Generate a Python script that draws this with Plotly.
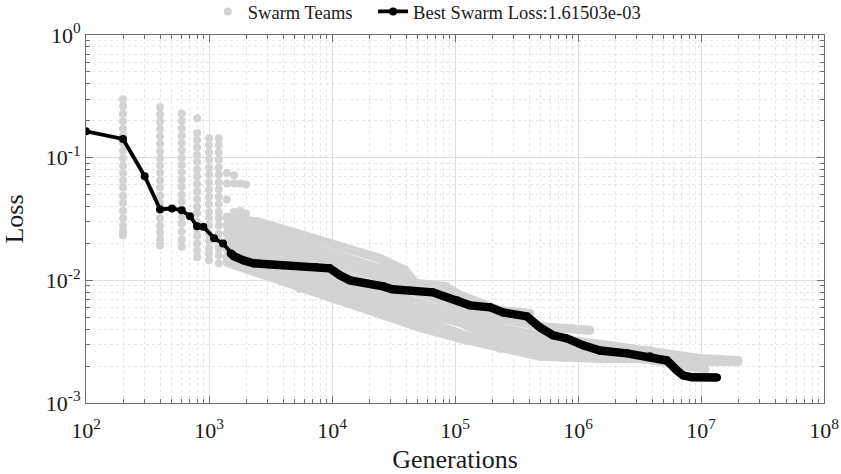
import plotly.graph_objects as go

# ---------------- data ----------------
# Best swarm loss per generation
best_gen = [100, 200, 300, 400, 500, 600, 700, 800, 900, 1100, 1300, 1500, 1600,
            1900, 2300, 3000, 4000, 7500, 9600, 11600, 14000, 26000, 31000, 66000,
            80000, 104000, 132000, 193000, 246000, 385000, 491000, 626000, 814000,
            1100000, 1510000, 2500000, 3850000, 5290000, 6380000, 7140000, 8450000,
            13500000]
best_loss = [0.164, 0.142, 0.0706, 0.0380, 0.0385, 0.0373, 0.0333, 0.0276, 0.0274,
             0.0220, 0.0200, 0.0166, 0.0157, 0.01456, 0.01377, 0.01351, 0.01325,
             0.01277, 0.01253, 0.01098, 0.0100, 0.00893, 0.00845, 0.00798, 0.00740,
             0.00687, 0.00625, 0.00602, 0.00548, 0.00508, 0.00413, 0.00356, 0.00336,
             0.00295, 0.00268, 0.00254, 0.00240, 0.00222, 0.00184, 0.00168, 0.00162,
             0.001615]
best_label = "Best Swarm Loss:1.61503e-03"

# Swarm team losses at early generations (columns) and a few stragglers
team_col_gens = [200, 400, 600, 800, 1000, 1200, 1400, 1600, 1800, 2000]
team_col_losses = [
    [0.300, 0.262, 0.228, 0.198, 0.172, 0.150, 0.131, 0.114, 0.099, 0.086, 0.075,
     0.065, 0.057, 0.049, 0.043, 0.037, 0.032, 0.028, 0.025, 0.0233],
    [0.258, 0.225, 0.196, 0.171, 0.149, 0.130, 0.113, 0.098, 0.086, 0.075, 0.065,
     0.057, 0.049, 0.043, 0.037, 0.032, 0.028, 0.0245, 0.0215, 0.0193],
    [0.228, 0.199, 0.173, 0.151, 0.132, 0.115, 0.100, 0.087, 0.076, 0.066, 0.058,
     0.050, 0.044, 0.038, 0.033, 0.029, 0.025, 0.0215, 0.0188],
    [0.210, 0.159, 0.139, 0.121, 0.105, 0.092, 0.080, 0.070, 0.061, 0.053, 0.046,
     0.040, 0.035, 0.030, 0.026, 0.023, 0.020, 0.0175, 0.0154],
    [0.144, 0.126, 0.110, 0.096, 0.083, 0.073, 0.063, 0.055, 0.048, 0.042, 0.036,
     0.032, 0.028, 0.024, 0.021, 0.0183, 0.0164, 0.0146],
    [0.144, 0.126, 0.110, 0.096, 0.083, 0.073, 0.063, 0.055, 0.048, 0.042, 0.036,
     0.032, 0.028, 0.024, 0.021, 0.0183, 0.016, 0.0138],
    [0.0751, 0.0616, 0.0456],
    [0.0720, 0.0616, 0.0361],
    [0.0616, 0.0368],
    [0.0604, 0.0350],
]

# Swarm team trajectories after the early phase
team_path_gens = [
    [1400, 2600, 5500, 11600, 24500, 39200, 47300, 83000, 110000, 232000, 407000],
    [1400, 2600, 5500, 11600, 24500, 52000, 110000, 232000, 491000, 1250000],
    [1400, 2600, 5500, 11600, 24500, 52000, 110000, 232000, 491000, 1510000, 3850000, 9800000, 20000000],
    [1400, 2600, 5500, 11600, 24500, 52000, 110000, 232000, 491000, 1510000, 3850000, 9800000, 20000000],
    [1400, 2600, 5500, 11600, 24500, 52000, 110000, 232000, 491000, 1510000, 3850000, 10800000],
    [1400, 2600, 5500, 11600, 24500, 52000, 110000, 232000, 491000, 1510000, 5290000],
    [1400, 2600, 5500, 11600, 24500, 52000, 110000, 232000, 491000, 1510000, 5290000],
]
team_path_losses = [
    [0.0327, 0.0297, 0.0237, 0.0190, 0.0151, 0.0121, 0.00946, 0.00893, 0.00755, 0.00569, 0.00538],
    [0.0281, 0.0256, 0.0200, 0.0160, 0.0125, 0.00927, 0.00713, 0.00490, 0.00421, 0.00391],
    [0.0242, 0.0216, 0.0169, 0.0135, 0.0106, 0.00783, 0.00613, 0.00413, 0.00349, 0.00301, 0.00268, 0.00231, 0.00222],
    [0.0208, 0.0182, 0.0143, 0.0114, 0.00877, 0.00649, 0.00518, 0.00362, 0.00312, 0.00268, 0.00244, 0.00218, 0.00218],
    [0.0179, 0.0154, 0.0121, 0.00964, 0.00740, 0.00548, 0.00454, 0.00324, 0.00279, 0.00244, 0.00226, 0.00188],
    [0.0154, 0.0130, 0.0102, 0.00813, 0.00625, 0.00471, 0.00369, 0.00295, 0.00258, 0.00235, 0.00231],
    [0.0140, 0.0114, 0.00861, 0.00687, 0.00538, 0.00413, 0.00336, 0.00279, 0.00240, 0.00231, 0.00231],
]

x_tickvals = [1e2, 1e3, 1e4, 1e5, 1e6, 1e7, 1e8]
x_ticktext = ["10<sup>2</sup>", "10<sup>3</sup>", "10<sup>4</sup>", "10<sup>5</sup>",
              "10<sup>6</sup>", "10<sup>7</sup>", "10<sup>8</sup>"]
y_tickvals = [1e-3, 1e-2, 1e-1, 1e0]
y_ticktext = ["10<sup>-3</sup>", "10<sup>-2</sup>", "10<sup>-1</sup>", "10<sup>0</sup>"]

# ---------------- styling ----------------
GRAY = "rgb(211,211,211)"
FONT = "Liberation Serif"
AXIS = "#6e6e6e"

fig = go.Figure()

# team trajectories (thick gray)
for g, l in zip(team_path_gens, team_path_losses):
    fig.add_trace(go.Scatter(x=g, y=l, mode="lines+markers", showlegend=False,
                             line=dict(color=GRAY, width=9),
                             marker=dict(color=GRAY, size=9),
                             hoverinfo="skip"))

# team scatter columns
sx, sy = [], []
for g, ls in zip(team_col_gens, team_col_losses):
    sx += [g] * len(ls)
    sy += ls
fig.add_trace(go.Scatter(x=sx, y=sy, mode="markers", name="Swarm Teams",
                         legend="legend",
                         marker=dict(color=GRAY, size=8, line=dict(width=0))))

# dense part of the best line drawn thicker (overlapping markers in original)
dense = [(g, l) for g, l in zip(best_gen, best_loss) if g >= 1500]
fig.add_trace(go.Scatter(x=[d[0] for d in dense], y=[d[1] for d in dense],
                         mode="lines", showlegend=False,
                         line=dict(color="black", width=8.5), hoverinfo="skip"))
fig.add_trace(go.Scatter(x=best_gen, y=best_loss, mode="lines+markers", name=best_label,
                         legend="legend2",
                         line=dict(color="black", width=3.8),
                         marker=dict(color="black", size=8)))

axis_common = dict(
    type="log", showline=True, linecolor=AXIS, linewidth=1, mirror="ticks",
    ticks="inside", ticklen=7, tickcolor=AXIS, tickwidth=1,
    showgrid=True, gridcolor="#dedede", gridwidth=1,
    zeroline=False, automargin=False,
    tickfont=dict(family=FONT, size=22, color="#1a1a1a"),
    minor=dict(ticks="inside", ticklen=4, tickcolor=AXIS, dtick="D1",
               showgrid=True, gridcolor="#e6e6e6", griddash="dot"),
)

fig.update_xaxes(**axis_common, range=[2, 8], tickmode="array",
                 tickvals=x_tickvals, ticktext=x_ticktext, ticklabelstandoff=8,
                 title=dict(text="Generations", font=dict(family=FONT, size=26, color="#1a1a1a"),
                            standoff=14))
fig.update_yaxes(**axis_common, range=[-3, 0], tickmode="array",
                 tickvals=y_tickvals, ticktext=y_ticktext,
                 title=dict(text="Loss", font=dict(family=FONT, size=26, color="#1a1a1a"),
                            standoff=14))

legend_common = dict(orientation="h", xanchor="left", yref="container", y=0.975,
                     yanchor="middle", bgcolor="rgba(255,255,255,0)",
                     font=dict(family=FONT, size=18.5, color="#1a1a1a"))

fig.update_layout(
    width=841, height=474,
    margin=dict(l=86, r=17, t=35, b=71, autoexpand=False),
    paper_bgcolor="white", plot_bgcolor="white",
    font=dict(family=FONT, color="#1a1a1a"),
    legend=dict(**legend_common, x=0.165),
    legend2=dict(**legend_common, x=0.389),
    showlegend=True,
)

fig.write_html("out.html")
